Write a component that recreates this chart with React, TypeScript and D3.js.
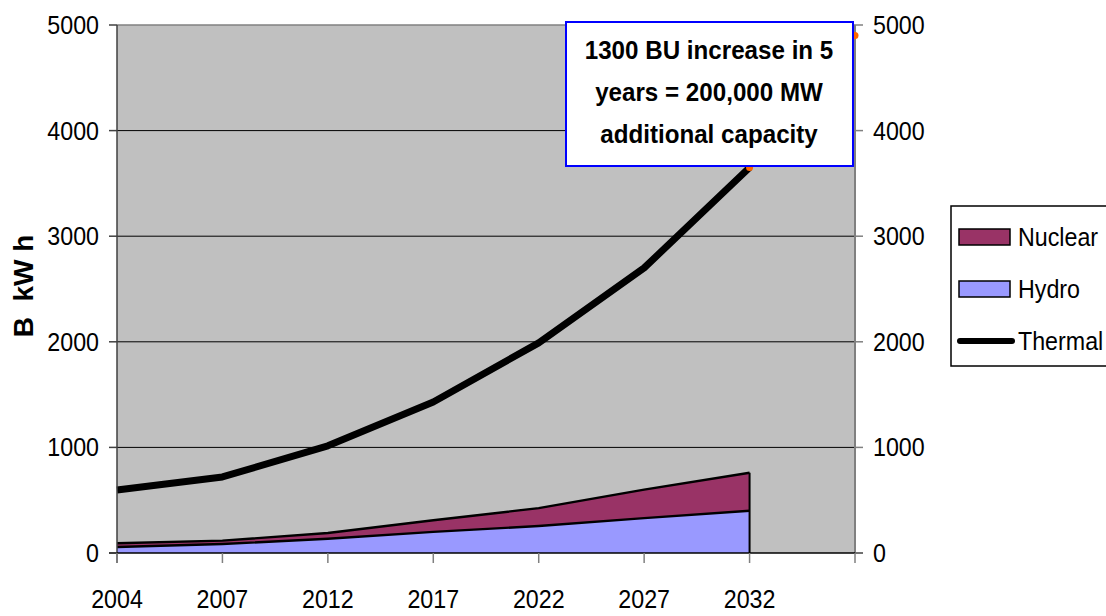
import React from "react";
import * as d3 from "d3";

const categories = ["2004", "2007", "2012", "2017", "2022", "2027", "2032", ""];
const hydro = [57, 85, 135, 200, 255, 330, 400];
const nuclear = [36, 32, 55, 110, 170, 270, 360];
const thermal = [597, 720, 1015, 1430, 1990, 2700, 3650];
const extraPoints: (number | null)[] = [null, null, null, null, null, null, 3650, 4900];
const yTicks = [0, 1000, 2000, 3000, 4000, 5000];
const annotation = ["1300 BU increase in 5", "years = 200,000 MW", "additional capacity"];
const legendItems = ["Nuclear", "Hydro", "Thermal"];
const yTitle = "B\u00A0\u00A0kW h";

const W = 1106;
const H = 616;
const FONT = "'Liberation Sans', Arial, sans-serif";
const SX = 0.93;

function T({ x, y, children, anchor = "start", size = 25, weight = "normal", rotate = 0, sx = SX }: any) {
  return (
    <text
      transform={`translate(${x},${y}) rotate(${rotate}) scale(${sx},1)`}
      textAnchor={anchor}
      fontSize={size}
      fontWeight={weight}
      fontFamily={FONT}
      fill="#000"
    >
      {children}
    </text>
  );
}

export default function App() {
  const x = d3.scalePoint<string>().domain(categories.map((c, i) => String(i))).range([117, 855]);
  const y = d3.scaleLinear().domain([0, 5000]).range([553, 25]);
  const xi = (i: number) => x(String(i)) as number;

  const rows = hydro.map((h, i) => ({ i, hydro: h, nuclear: nuclear[i] }));
  const stack = d3.stack<any>().keys(["hydro", "nuclear"])(rows);
  const area = d3
    .area<any>()
    .x((d) => xi(d.data.i))
    .y0((d) => y(d[0]))
    .y1((d) => y(d[1]));
  const topLine = d3
    .line<any>()
    .x((d) => xi(d.data.i))
    .y((d) => y(d[1]));

  const thermalLine = d3
    .line<number>()
    .x((_, i) => xi(i))
    .y((d) => y(d));

  const extra = extraPoints.map((v, i) => ({ v, i })).filter((d) => d.v !== null) as { v: number; i: number }[];
  const extraLine = d3
    .line<{ v: number; i: number }>()
    .x((d) => xi(d.i))
    .y((d) => y(d.v));

  const colors: Record<string, string> = { hydro: "#9999ff", nuclear: "#993366" };
  const x0 = 117;
  const x1 = 855;
  const lastI = hydro.length - 1;

  return (
    <svg width={W} height={H} style={{ position: "absolute", left: 0, top: 0 }}>
      <rect x={0} y={0} width={W} height={H} fill="#fff" />
      <rect x={x0} y={y(5000)} width={x1 - x0} height={y(0) - y(5000)} fill="#c0c0c0" />
      {yTicks.slice(1, -1).map((t) => (
        <line key={t} x1={x0} x2={x1} y1={y(t)} y2={y(t)} stroke="#000" strokeWidth={1} />
      ))}
      <line x1={x0} x2={x1} y1={y(5000)} y2={y(5000)} stroke="#808080" strokeWidth={1.5} />
      <line x1={x1} x2={x1} y1={y(5000)} y2={y(0)} stroke="#808080" strokeWidth={2} />
      {stack.map((s) => (
        <path key={s.key} d={area(s) || ""} fill={colors[s.key]} stroke="none" />
      ))}
      {stack.map((s) => (
        <path key={s.key + "l"} d={topLine(s) || ""} fill="none" stroke="#000" strokeWidth={2.4} />
      ))}
      <line x1={xi(lastI)} x2={xi(lastI)} y1={y(0)} y2={y(hydro[lastI] + nuclear[lastI])} stroke="#000" strokeWidth={2} />
      <path d={thermalLine(thermal) || ""} fill="none" stroke="#000" strokeWidth={7} strokeLinejoin="round" />
      <path d={extraLine(extra) || ""} fill="none" stroke="#ff6600" strokeWidth={2} />
      {extra.map((d) => (
        <circle key={d.i} cx={xi(d.i)} cy={y(d.v)} r={3.5} fill="#ff6600" />
      ))}
      <line x1={x0} x2={x0} y1={y(5000)} y2={y(0) + 10} stroke="#404040" strokeWidth={1.5} />
      <line x1={x0 - 8} x2={x1 + 8} y1={y(0)} y2={y(0)} stroke="#000" strokeWidth={1.5} />
      {yTicks.map((t) => (
        <g key={t}>
          <line x1={x0 - 8} x2={x0} y1={y(t)} y2={y(t)} stroke="#404040" strokeWidth={1.5} />
          <line x1={x1} x2={x1 + 8} y1={y(t)} y2={y(t)} stroke="#808080" strokeWidth={1.5} />
          <T x={99} y={y(t) + 9} anchor="end">{t}</T>
          <T x={873} y={y(t) + 9}>{t}</T>
        </g>
      ))}
      {categories.map((c, i) => (
        <g key={i}>
          <line x1={xi(i)} x2={xi(i)} y1={y(0)} y2={y(0) + 10} stroke="#808080" strokeWidth={1.5} />
          {c && <T x={xi(i)} y={608} anchor="middle">{c}</T>}
        </g>
      ))}
      <T x={33} y={286} anchor="middle" weight="bold" size={28} rotate={-90} sx={1}>{yTitle}</T>
      <rect x={566} y={22} width={287} height={144} fill="#fff" stroke="#0000ff" strokeWidth={2} />
      {annotation.map((s, i) => (
        <T key={i} x={709} y={59 + i * 42} anchor="middle" weight="bold" size={26}>{s}</T>
      ))}
      <rect x={951} y={206} width={170} height={160} fill="#fff" stroke="#000" strokeWidth={1.5} />
      {legendItems.map((name, i) => {
        const cy = 237 + i * 52;
        return (
          <g key={name}>
            {name === "Thermal" ? (
              <line x1={960} x2={1012} y1={cy} y2={cy} stroke="#000" strokeWidth={6} strokeLinecap="round" />
            ) : (
              <rect x={959} y={cy - 8} width={51} height={16} fill={colors[name.toLowerCase()]} stroke="#000" strokeWidth={1.5} />
            )}
            <T x={1018} y={cy + 9}>{name}</T>
          </g>
        );
      })}
    </svg>
  );
}
